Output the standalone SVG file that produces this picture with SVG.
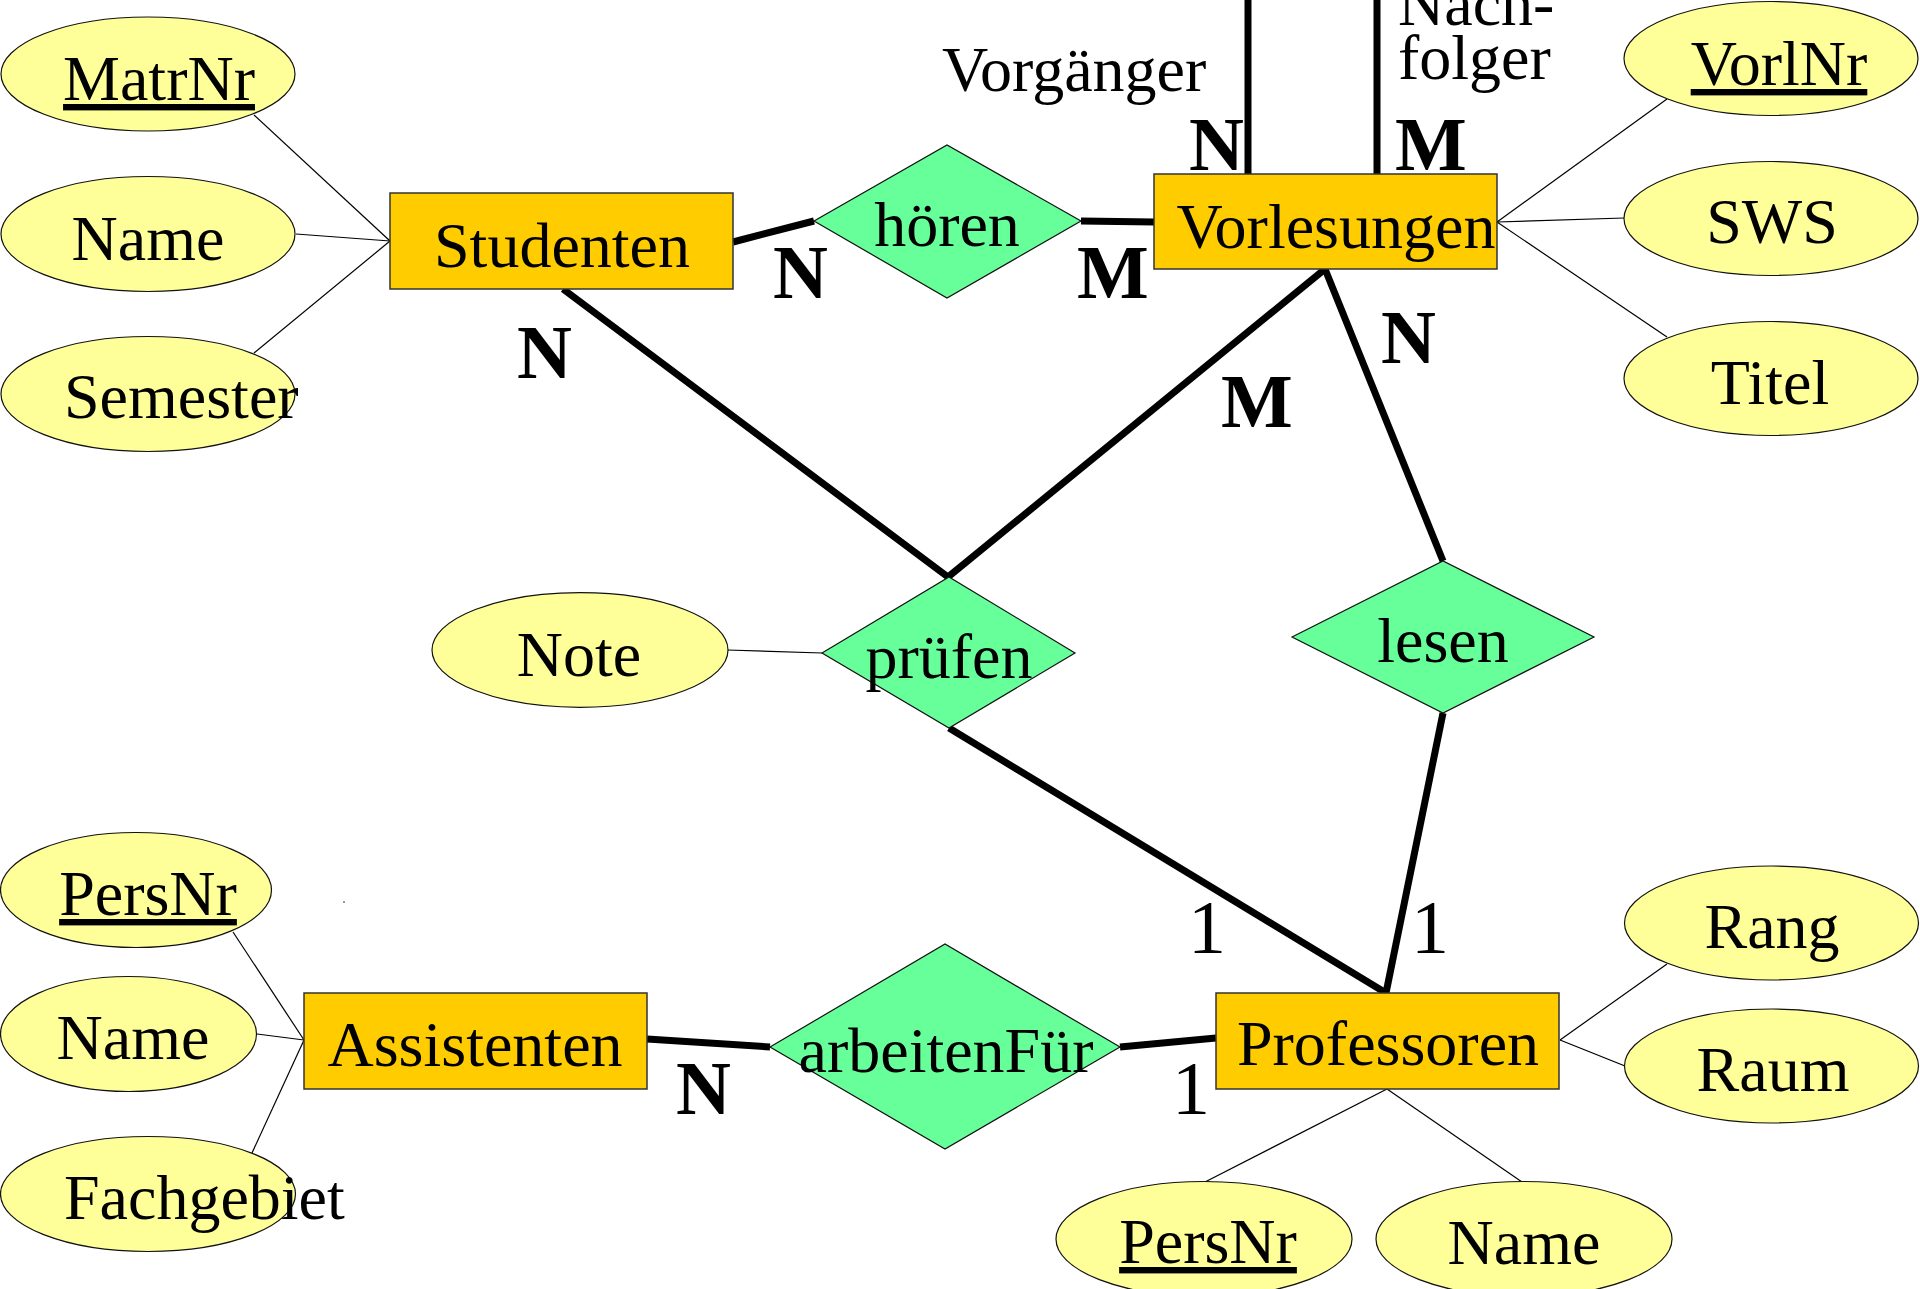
<svg xmlns="http://www.w3.org/2000/svg" width="1920" height="1289" viewBox="0 0 1920 1289">
<style>
  text { font-family: "Liberation Serif", "Times New Roman", serif; fill: #000; }
  .ent rect { fill: #ffcc00; stroke: #333; stroke-width: 1.5; }
  .rel polygon { fill: #66ff99; stroke: #111; stroke-width: 1.2; }
  .att ellipse { fill: #ffff99; stroke: #111; stroke-width: 1.2; }
  .lbl { font-size: 64px; }
  .key { text-decoration: underline; }
  .card { font-size: 76px; font-weight: bold; }
  .one { font-size: 76px; }
  .thick { stroke: #000; stroke-width: 7; fill: none; }
  .thin { stroke: #000; stroke-width: 1.2; fill: none; }
</style>
<rect x="0" y="0" width="1920" height="1289" fill="#ffffff"/>

<g id="connectors">
  <line class="thick" x1="733" y1="242" x2="814" y2="221"/>
  <line class="thick" x1="1081" y1="221" x2="1154" y2="222"/>
  <line class="thick" x1="563" y1="289" x2="948" y2="577"/>
  <line class="thick" x1="1325" y1="269" x2="948" y2="577"/>
  <line class="thick" x1="1325" y1="269" x2="1443" y2="561"/>
  <line class="thick" x1="949" y1="728" x2="1386" y2="993"/>
  <line class="thick" x1="1443" y1="713" x2="1386" y2="993"/>
  <line class="thick" x1="647" y1="1039" x2="770" y2="1047"/>
  <line class="thick" x1="1120" y1="1047" x2="1216" y2="1038"/>
  <line class="thick" x1="1248" y1="0" x2="1248" y2="174"/>
  <line class="thick" x1="1377" y1="0" x2="1377" y2="174"/>

  <line class="thin" x1="390" y1="241" x2="254" y2="115"/>
  <line class="thin" x1="390" y1="241" x2="296" y2="234"/>
  <line class="thin" x1="390" y1="241" x2="254" y2="353"/>
  <line class="thin" x1="1497" y1="222" x2="1667" y2="99"/>
  <line class="thin" x1="1497" y1="222" x2="1624" y2="218"/>
  <line class="thin" x1="1497" y1="222" x2="1667" y2="337"/>
  <line class="thin" x1="727" y1="650" x2="822" y2="653"/>
  <line class="thin" x1="304" y1="1040" x2="233" y2="932"/>
  <line class="thin" x1="304" y1="1040" x2="257" y2="1034"/>
  <line class="thin" x1="304" y1="1040" x2="252" y2="1153"/>
  <line class="thin" x1="1560" y1="1040" x2="1667" y2="964"/>
  <line class="thin" x1="1560" y1="1040" x2="1625" y2="1066"/>
  <line class="thin" x1="1387" y1="1089" x2="1205" y2="1182"/>
  <line class="thin" x1="1387" y1="1089" x2="1522" y2="1182"/>

  <text class="lbl" x="942" y="91">Vorgänger</text>
  <text class="lbl" x="1398" y="25">Nach-</text>
  <text class="lbl" x="1398" y="79">folger</text>
  <text class="card" x="1189" y="170">N</text>
  <text class="card" x="1395" y="170">M</text>
  <text class="card" x="773" y="298">N</text>
  <text class="card" x="1077" y="298">M</text>
  <text class="card" x="517" y="378">N</text>
  <text class="card" x="1221" y="427">M</text>
  <text class="card" x="1381" y="363">N</text>
  <text class="one" x="1188" y="953">1</text>
  <text class="one" x="1411" y="953">1</text>
  <text class="one" x="1172" y="1114">1</text>
  <text class="card" x="676" y="1114">N</text>
</g>

<g id="Studenten" class="ent">
  <rect x="390" y="193" width="343" height="96"/>
  <text class="lbl" x="562" y="267" text-anchor="middle">Studenten</text>
</g>
<g id="Vorlesungen" class="ent">
  <rect x="1154" y="174" width="343" height="95"/>
  <text class="lbl" x="1336" y="248" text-anchor="middle">Vorlesungen</text>
</g>
<g id="Assistenten" class="ent">
  <rect x="304" y="993" width="343" height="96"/>
  <text class="lbl" x="475" y="1066" text-anchor="middle">Assistenten</text>
</g>
<g id="Professoren" class="ent">
  <rect x="1216" y="993" width="343" height="96"/>
  <text class="lbl" x="1388" y="1065" text-anchor="middle">Professoren</text>
</g>

<g id="hoeren" class="rel">
  <polygon points="814,221 947,145 1081,221 947,298"/>
  <text class="lbl" x="947" y="246" text-anchor="middle">hören</text>
</g>
<g id="pruefen" class="rel">
  <polygon points="822,653 949,577 1075,653 949,728"/>
  <text class="lbl" x="949" y="678" text-anchor="middle">prüfen</text>
</g>
<g id="lesen" class="rel">
  <polygon points="1292,637 1443,561 1594,637 1443,713"/>
  <text class="lbl" x="1443" y="662" text-anchor="middle">lesen</text>
</g>
<g id="arbeitenFuer" class="rel">
  <polygon points="770,1047 945,944 1120,1047 945,1149"/>
  <text class="lbl" x="946" y="1072" text-anchor="middle">arbeitenFür</text>
</g>

<g id="MatrNr" class="att">
  <ellipse cx="148" cy="74" rx="147" ry="57"/>
  <text class="lbl key" x="159" y="100" text-anchor="middle">MatrNr</text>
</g>
<g id="S_Name" class="att">
  <ellipse cx="148" cy="234" rx="147" ry="57.5"/>
  <text class="lbl" x="148" y="260" text-anchor="middle">Name</text>
</g>
<g id="Semester" class="att">
  <ellipse cx="148" cy="394" rx="147" ry="57.5"/>
  <text class="lbl" x="64" y="418">Semester</text>
</g>
<g id="VorlNr" class="att">
  <ellipse cx="1771" cy="58.5" rx="147" ry="57"/>
  <text class="lbl key" x="1779" y="85" text-anchor="middle">VorlNr</text>
</g>
<g id="SWS" class="att">
  <ellipse cx="1771" cy="218.5" rx="147" ry="57"/>
  <text class="lbl" x="1772" y="243" text-anchor="middle">SWS</text>
</g>
<g id="Titel" class="att">
  <ellipse cx="1771" cy="378.5" rx="147" ry="57"/>
  <text class="lbl" x="1770" y="404" text-anchor="middle">Titel</text>
</g>
<g id="Note" class="att">
  <ellipse cx="580" cy="650" rx="148" ry="57.3"/>
  <text class="lbl" x="579" y="676" text-anchor="middle">Note</text>
</g>
<g id="A_PersNr" class="att">
  <ellipse cx="136" cy="890" rx="135.5" ry="57.5"/>
  <text class="lbl key" x="148" y="915" text-anchor="middle">PersNr</text>
</g>
<g id="A_Name" class="att">
  <ellipse cx="128.5" cy="1034" rx="128" ry="57.5"/>
  <text class="lbl" x="133" y="1059" text-anchor="middle">Name</text>
</g>
<g id="Fachgebiet" class="att">
  <ellipse cx="148" cy="1194" rx="147.5" ry="57.5"/>
  <text class="lbl" x="64" y="1219">Fachgebiet</text>
</g>
<g id="Rang" class="att">
  <ellipse cx="1771.5" cy="923" rx="147" ry="57"/>
  <text class="lbl" x="1772" y="948" text-anchor="middle">Rang</text>
</g>
<g id="Raum" class="att">
  <ellipse cx="1771.5" cy="1066" rx="147" ry="57"/>
  <text class="lbl" x="1773" y="1091" text-anchor="middle">Raum</text>
</g>
<g id="P_PersNr" class="att">
  <ellipse cx="1204" cy="1239" rx="148" ry="57.5"/>
  <text class="lbl key" x="1208" y="1263" text-anchor="middle">PersNr</text>
</g>
<g id="P_Name" class="att">
  <ellipse cx="1524" cy="1239" rx="148" ry="57.5"/>
  <text class="lbl" x="1524" y="1264" text-anchor="middle">Name</text>
</g>
<rect x="343" y="901" width="2" height="2" fill="#999"/>
</svg>
